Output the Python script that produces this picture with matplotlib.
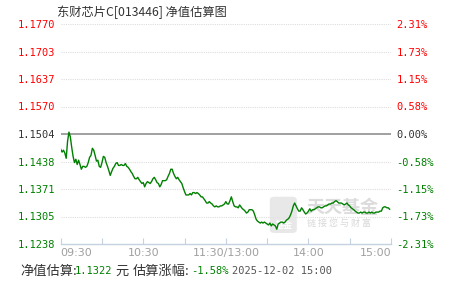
import numpy as np
import matplotlib
matplotlib.use('Agg')
from matplotlib import pyplot as plt
from matplotlib.patches import FancyBboxPatch

plt.rcParams['font.family'] = ['Noto Sans CJK SC', 'DejaVu Sans']

# Datos
fund_name = '东财芯片C[013446] 净值估算图'
base_nav = 1.1504
est_nav = '1.1322'
est_pct = '-1.58%'
est_time = '2025-12-02 15:00'

# minutos desde 09:30 (sin la pausa del mediodia) y variacion estimada en %
pct = [-0.32, -0.38, -0.34, -0.40, -0.51, -0.15, 0.04, -0.06, -0.28, -0.47,
       -0.60, -0.53, -0.64, -0.55, -0.64, -0.74, -0.68, -0.68, -0.70, -0.68,
       -0.60, -0.49, -0.45, -0.30, -0.34, -0.45, -0.57, -0.55, -0.68, -0.70,
       -0.60, -0.47, -0.49, -0.60, -0.68, -0.77, -0.87, -0.79, -0.72, -0.68,
       -0.62, -0.60, -0.66, -0.66, -0.64, -0.66, -0.66, -0.62, -0.68, -0.70,
       -0.74, -0.79, -0.83, -0.89, -0.94, -0.94, -0.91, -0.96, -1.00, -1.04,
       -1.02, -1.11, -1.04, -1.00, -1.02, -1.04, -1.00, -0.94, -0.91, -0.96,
       -1.02, -1.04, -1.11, -1.06, -0.98, -0.98, -0.98, -0.96, -0.89, -0.83,
       -0.74, -0.74, -0.83, -0.89, -0.94, -0.91, -0.96, -1.00, -1.04, -1.13,
       -1.21, -1.28, -1.28, -1.28, -1.25, -1.28, -1.23, -1.23, -1.25, -1.23,
       -1.25, -1.28, -1.32, -1.32, -1.36, -1.40, -1.45, -1.45, -1.42, -1.45,
       -1.47, -1.51, -1.53, -1.51, -1.53, -1.53, -1.51, -1.51, -1.49, -1.47,
       -1.42, -1.47, -1.47, -1.40, -1.32, -1.42, -1.51, -1.53, -1.53, -1.55,
       -1.49, -1.53, -1.57, -1.59, -1.62, -1.66, -1.64, -1.59, -1.59, -1.59,
       -1.62, -1.70, -1.79, -1.83, -1.85, -1.87, -1.85, -1.87, -1.85, -1.87,
       -1.89, -1.91, -1.87, -1.93, -1.89, -1.91, -1.93, -2.00, -1.89, -1.87,
       -1.85, -1.85, -1.87, -1.85, -1.81, -1.79, -1.76, -1.70, -1.62, -1.51,
       -1.45, -1.51, -1.57, -1.62, -1.62, -1.55, -1.59, -1.64, -1.68, -1.66,
       -1.62, -1.57, -1.62, -1.59, -1.59, -1.57, -1.55, -1.53, -1.53, -1.55,
       -1.55, -1.53, -1.51, -1.51, -1.49, -1.47, -1.47, -1.45, -1.45, -1.42,
       -1.40, -1.42, -1.45, -1.45, -1.45, -1.47, -1.49, -1.47, -1.45, -1.49,
       -1.51, -1.55, -1.57, -1.59, -1.62, -1.64, -1.66, -1.66, -1.64, -1.66,
       -1.64, -1.64, -1.66, -1.66, -1.64, -1.66, -1.64, -1.66, -1.66, -1.64,
       -1.64, -1.64, -1.62, -1.62, -1.55, -1.53, -1.53, -1.55, -1.55, -1.58]
minutes = list(range(len(pct)))

left_labels = ['1.1770', '1.1703', '1.1637', '1.1570', '1.1504',
               '1.1438', '1.1371', '1.1305', '1.1238']
right_labels = ['2.31%', '1.73%', '1.15%', '0.58%', '0.00%',
                '-0.58%', '-1.15%', '-1.73%', '-2.31%']
pct_ticks = [2.31, 1.7325, 1.155, 0.5775, 0.0, -0.5775, -1.155, -1.7325, -2.31]
label_colors = ['#ff0000'] * 4 + ['#333333'] + ['#008000'] * 4

time_ticks = [0, 30, 60, 90, 120, 150, 180, 210, 240]
time_labels = ['09:30', '', '10:30', '', '11:30/13:00', '', '14:00', '', '15:00']

W, H = 451, 281
fig = plt.figure(figsize=(W / 100, H / 100), dpi=100)
ax = fig.add_axes([60.7 / W, 1 - 244 / H, (391 - 60.7) / W, (244 - 24) / H])

ax.set_xlim(0, 240)
ax.set_ylim(-2.31, 2.31)

# rejilla
for t in pct_ticks:
    if t == 0:
        ax.axhline(t, color='#999999', lw=1.3, zorder=1)
    elif t != -2.31:
        ax.axhline(t, color='#dddddd', lw=0.8, ls=(0, (1, 1)), zorder=1)

ax.plot(minutes, pct, color='#008000', lw=1.0, zorder=3)

for s in ['top', 'right', 'left']:
    ax.spines[s].set_visible(False)
ax.spines['bottom'].set_color('#c5d3e0')
ax.spines['bottom'].set_linewidth(1.0)

ax.set_yticks(pct_ticks)
ax.set_yticklabels(left_labels, family='DejaVu Sans Mono', fontsize=7.5)
ax.tick_params(axis='y', length=0, pad=4)
for lab, c in zip(ax.get_yticklabels(), label_colors):
    lab.set_color(c)

ax2 = ax.twinx()
ax2.set_ylim(-2.31, 2.31)
for s in ['top', 'right', 'left', 'bottom']:
    ax2.spines[s].set_visible(False)
ax2.set_yticks(pct_ticks)
ax2.set_yticklabels(right_labels, family='DejaVu Sans Mono', fontsize=7.5)
ax2.tick_params(axis='y', length=0, pad=4)
for lab, c in zip(ax2.get_yticklabels(), label_colors):
    lab.set_color(c)

ax.set_xticks(time_ticks)
ax.set_xticklabels(time_labels, fontsize=8, color='#a0a0a0', family='DejaVu Sans')
ax.tick_params(axis='x', direction='in', length=4, color='#c5d3e0', pad=3)
xl = ax.get_xticklabels()
xl[0].set_ha('left')
xl[-1].set_ha('right')

# marca de agua
logo = FancyBboxPatch((0.633, 0.05), 0.082, 0.165, boxstyle='round,pad=0,rounding_size=0.015',
                      transform=ax.transAxes, facecolor='#e3e3e3', edgecolor='none',
                      alpha=0.8, zorder=2)
ax.add_patch(logo)
ax.text(0.674, 0.085, '基金', transform=ax.transAxes, fontsize=6.5, color='white',
        ha='center', va='center', weight='bold', zorder=2)
ax.text(0.745, 0.165, '天天基金', transform=ax.transAxes, fontsize=13, color='#dcdcdc',
        ha='left', va='center', weight='bold', zorder=2)
ax.text(0.745, 0.095, '链 接 您 与 财 富', transform=ax.transAxes, fontsize=6.5,
        color='#d8d8d8', ha='left', va='center', zorder=2)

# titulo
fig.text(57 / W, 1 - 12 / H, fund_name, fontsize=8.8, color='#333333',
         ha='left', va='center')

# linea inferior
yb = 1 - 271 / H
fig.text(20 / W, yb, '净值估算:', fontsize=9.5, color='#333333', va='center')
fig.text(75 / W, yb, est_nav, fontsize=7.5, color='#008000', va='center',
         family='DejaVu Sans Mono')
fig.text(115 / W, yb, '元', fontsize=9.5, color='#333333', va='center')
fig.text(133 / W, yb, '估算涨幅:', fontsize=9.5, color='#333333', va='center')
fig.text(191 / W, yb, est_pct, fontsize=7.5, color='#008000', va='center',
         family='DejaVu Sans Mono')
fig.text(232 / W, yb, est_time, fontsize=7.5, color='#555555', va='center',
         family='DejaVu Sans Mono')

fig.savefig('out.png', dpi=100)
